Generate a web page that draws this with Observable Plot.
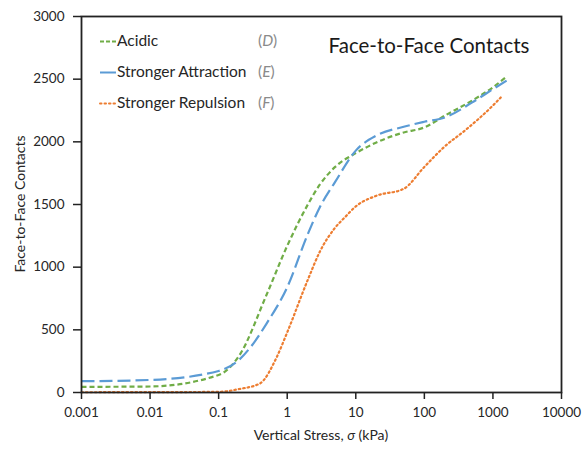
<!DOCTYPE html>
<html><head><meta charset="utf-8">
<script src="https://cdn.jsdelivr.net/npm/d3@7"></script>
<script src="https://cdn.jsdelivr.net/npm/@observablehq/plot@0.6"></script>
<style>body{margin:0;background:#fff}</style>
</head><body><div id="chart"></div>
<script>
// Acidic (D)
const acidicStress   = [0.001, 0.01, 0.1, 0.2, 0.5, 1, 2, 3, 5, 10, 20, 50, 100, 200, 500, 1000, 1500];
const acidicContacts = [45, 48, 140, 295, 780, 1170, 1500, 1660, 1800, 1910, 1995, 2075, 2115, 2210, 2330, 2435, 2510];
// Stronger Attraction (E)
const attractStress   = [0.001, 0.01, 0.1, 0.2, 0.3, 0.5, 1, 2, 3, 5, 10, 20, 50, 100, 200, 500, 1000, 1600];
const attractContacts = [90, 100, 172, 262, 370, 550, 840, 1265, 1480, 1680, 1930, 2050, 2120, 2160, 2195, 2315, 2420, 2490];
// Stronger Repulsion (F)
const repulseStress   = [0.001, 0.01, 0.1, 0.2, 0.4, 0.7, 1, 2, 3, 5, 7, 10, 20, 50, 100, 200, 400, 1000, 1300];
const repulseContacts = [2, 3, 5, 28, 72, 280, 480, 900, 1125, 1315, 1400, 1485, 1570, 1625, 1800, 1965, 2095, 2290, 2354];

const seriesNames = ["Acidic", "Stronger Attraction", "Stronger Repulsion"];
const seriesTags = ["D", "E", "F"];
const seriesColors = ["#70AD47", "#5B9BD5", "#ED7D31"];
const seriesDash = ["5,3", "13,5", "1.5,3"];

const xTicks = [0.001, 0.01, 0.1, 1, 10, 100, 1000, 10000];
const yTicks = [0, 500, 1000, 1500, 2000, 2500, 3000];

const toRows = (xs, ys, s) => xs.map((x, i) => ({x, y: ys[i], s}));
const rows = [
  ...toRows(acidicStress, acidicContacts, seriesNames[0]),
  ...toRows(attractStress, attractContacts, seriesNames[1]),
  ...toRows(repulseStress, repulseContacts, seriesNames[2])
];

const W = 585, H = 449;
const font = "Lato, 'Open Sans', sans-serif";
const textColor = "#262626";

const lineMarks = seriesNames.map((name, i) =>
  Plot.line(rows.filter(d => d.s === name), {
    x: "x", y: "y", curve: "monotone-x",
    stroke: seriesColors[i], strokeWidth: 2.2,
    strokeDasharray: seriesDash[i],
    strokeLinecap: i === 2 ? "round" : "butt"
  })
);

const plot = Plot.plot({
  width: W, height: H,
  marginLeft: 81, marginRight: 24, marginTop: 16, marginBottom: 57,
  style: {fontFamily: font, fontSize: "13.5px", color: textColor, background: "#fff"},
  x: {type: "log", domain: [0.001, 10000]},
  y: {domain: [0, 3000]},
  marks: [
    ...lineMarks,
    Plot.frame({stroke: "#222", strokeWidth: 1.8}),
    Plot.axisX({ticks: xTicks, tickFormat: d => String(d), tickSize: 7, tickPadding: 8, label: null, stroke: "#222", strokeWidth: 1.5}),
    Plot.axisY({ticks: yTicks, tickFormat: d => String(d), tickSize: 8, tickPadding: 9, label: null, stroke: "#222", strokeWidth: 1.5})
  ]
});

const svg = d3.select(plot);
// x-axis title with italic sigma
const xt = svg.append("text")
  .attr("x", (81 + (W - 24)) / 2).attr("y", 440)
  .attr("text-anchor", "middle")
  .attr("font-family", font).attr("font-size", 14).attr("fill", textColor);
xt.append("tspan").text("Vertical Stress, ");
xt.append("tspan").attr("font-style", "italic").text("σ");
xt.append("tspan").text(" (kPa)");

// y-axis title
svg.append("text")
  .attr("transform", `translate(25,${(16 + H - 57) / 2}) rotate(-90)`)
  .attr("text-anchor", "middle")
  .attr("font-family", font).attr("font-size", 14).attr("fill", textColor)
  .text("Face-to-Face Contacts");

// chart title inside plot
svg.append("text")
  .attr("x", 429).attr("y", 53)
  .attr("text-anchor", "middle")
  .attr("font-family", font).attr("font-size", 20.5).attr("fill", "#1a1a1a")
  .text("Face-to-Face Contacts");

// legend
const lg = svg.append("g").attr("text-anchor", "start");
seriesNames.forEach((name, i) => {
  const base = 46 + i * 31;
  const ly = base - 4.5;
  lg.append("line")
    .attr("x1", 100).attr("x2", 116).attr("y1", ly).attr("y2", ly)
    .attr("stroke", seriesColors[i]).attr("stroke-width", 2)
    .attr("stroke-dasharray", i === 0 ? "4,2" : i === 1 ? null : "1.5,3")
    .attr("stroke-linecap", i === 2 ? "round" : "butt");
  lg.append("text")
    .attr("x", 117).attr("y", base)
    .attr("text-anchor", "start")
    .attr("font-family", font).attr("font-size", 15.5).attr("fill", textColor)
    .text(name);
  const tg = lg.append("text")
    .attr("x", 258).attr("y", base)
    .attr("text-anchor", "start")
    .attr("font-family", font).attr("font-size", 15.5).attr("fill", "#8a8a8a");
  tg.append("tspan").text("(");
  tg.append("tspan").attr("font-style", "italic").text(seriesTags[i]);
  tg.append("tspan").text(")");
});

document.getElementById("chart").appendChild(plot);
</script>
</body></html>
